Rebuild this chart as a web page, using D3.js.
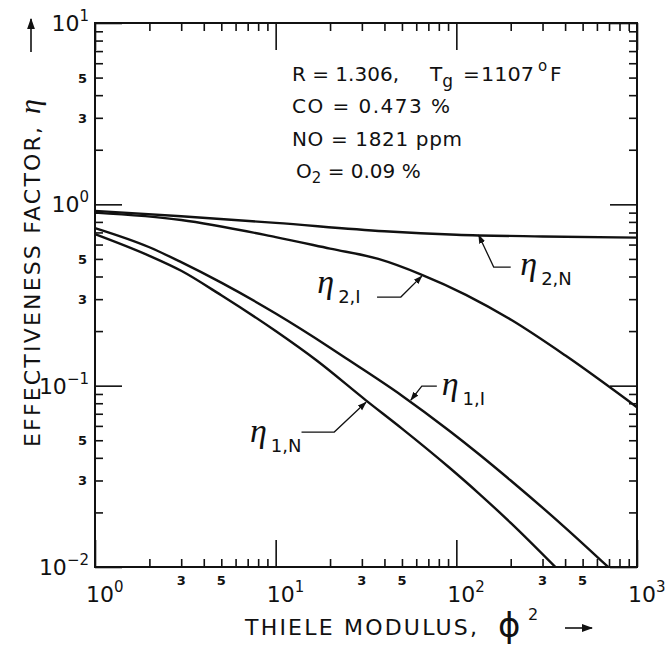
<!DOCTYPE html>
<html>
<head>
<meta charset="utf-8">
<script src="https://cdn.jsdelivr.net/npm/d3@7"></script>
<style>
  body { margin: 0; background: #fff; }
  text { font-family: "DejaVu Sans", sans-serif; fill: #111; }
</style>
</head>
<body>
<svg id="chart"></svg>
<script>
// curve data (phi^2, eta)
var phi2_2N = [1, 3, 10, 40, 100, 300, 1000];
var eta_2N  = [0.92, 0.86, 0.79, 0.71, 0.68, 0.665, 0.655];

var phi2_2I = [1, 3, 10, 20, 37, 64, 113, 202, 400, 1000];
var eta_2I  = [0.90, 0.82, 0.66, 0.57, 0.50, 0.41, 0.317, 0.23, 0.147, 0.076];

var phi2_1I = [1, 2, 3, 5, 10, 20, 25.5, 50, 91, 133, 200, 400, 692];
var eta_1I  = [0.74, 0.58, 0.48, 0.37, 0.25, 0.162, 0.138, 0.088, 0.0566, 0.042, 0.030, 0.0165, 0.01];

var phi2_1N = [1, 2, 3, 5, 10, 16.8, 31.6, 50, 91, 133, 200, 353];
var eta_1N  = [0.685, 0.52, 0.43, 0.315, 0.2, 0.138, 0.083, 0.058, 0.0355, 0.0255, 0.0175, 0.01];

var xDecades = [1, 10, 100, 1000];
var xDecadeExp = ["0", "1", "2", "3"];
var yDecades = [10, 1, 0.1, 0.01];
var yDecadeExp = ["1", "0", "\u22121", "\u22122"];
var xMinorLabels = [3, 5, 30, 50, 300, 500];
var yMinorLabels = [5, 3, 0.5, 0.3, 0.05, 0.03];

var conditions = ["CO = 0.473 %", "NO = 1821 ppm"];

var width = 669, height = 649;
var margin = {"left": 95, "right": 32, "top": 23, "bottom": 82};

var svg = d3.select("#chart").attr("width", width).attr("height", height);
svg.append("rect").attr("width", width).attr("height", height).attr("fill", "#fff");

var xScale = d3.scaleLog().domain([1, 1000]).range([margin.left, width - margin.right]);
var yScale = d3.scaleLog().domain([0.01, 10]).range([height - margin.bottom, margin.top]);

var x0 = margin.left, x1 = width - margin.right;
var y0 = margin.top, y1 = height - margin.bottom;

// arrow head marker
var defs = svg.append("defs");
defs.append("marker").attr("id", "head")
  .attr("viewBox", "0 0 10 10").attr("refX", 9).attr("refY", 5)
  .attr("markerWidth", 7).attr("markerHeight", 7).attr("orient", "auto")
  .append("path").attr("d", "M0,1.5 L10,5 L0,8.5 Z").attr("fill", "#111");

// minor and major ticks, all four sides, pointing inward
var xMinor = xScale.ticks().filter(function(d) { return xDecades.indexOf(d) < 0; });
var yMinor = yScale.ticks().filter(function(d) { return yDecades.indexOf(d) < 0; });

function tickGroup(axis, tx, ty) {
  var g = svg.append("g").attr("transform", "translate(" + tx + "," + ty + ")").call(axis);
  g.select(".domain").remove();
  g.selectAll("line").attr("stroke", "#111").attr("stroke-width", 1.6);
  return g;
}
tickGroup(d3.axisBottom(xScale).tickValues(xMinor).tickSize(-8).tickFormat(""), 0, y1);
tickGroup(d3.axisTop(xScale).tickValues(xMinor).tickSize(-8).tickFormat(""), 0, y0);
tickGroup(d3.axisLeft(yScale).tickValues(yMinor).tickSize(-8).tickFormat(""), x0, 0);
tickGroup(d3.axisRight(yScale).tickValues(yMinor).tickSize(-8).tickFormat(""), x1, 0);
tickGroup(d3.axisBottom(xScale).tickValues(xDecades).tickSize(-27).tickFormat(""), 0, y1);
tickGroup(d3.axisTop(xScale).tickValues(xDecades).tickSize(-27).tickFormat(""), 0, y0);
tickGroup(d3.axisLeft(yScale).tickValues(yDecades).tickSize(-27).tickFormat(""), x0, 0);
tickGroup(d3.axisRight(yScale).tickValues(yDecades).tickSize(-27).tickFormat(""), x1, 0);

// frame
svg.append("rect").attr("x", x0).attr("y", y0)
  .attr("width", x1 - x0).attr("height", y1 - y0)
  .attr("fill", "none").attr("stroke", "#111").attr("stroke-width", 2);

// decade labels
xDecades.forEach(function(d, i) {
  var t = svg.append("text").attr("x", xScale(d) - 9).attr("y", y1 + 35)
    .style("font-size", "22px");
  t.append("tspan").text("10");
  t.append("tspan").attr("dy", -10).style("font-size", "15px").text(xDecadeExp[i]);
});
yDecades.forEach(function(d, i) {
  var t = svg.append("text").attr("x", x0 - 6).attr("y", yScale(d) + 8)
    .attr("text-anchor", "end").style("font-size", "22px");
  t.append("tspan").text("10");
  t.append("tspan").attr("dy", -10).style("font-size", "15px").text(yDecadeExp[i]);
});

// minor labels 3, 5
svg.selectAll(".xml").data(xMinorLabels).enter().append("text")
  .attr("x", function(d) { return xScale(d); }).attr("y", y1 + 18)
  .attr("text-anchor", "middle").style("font-size", "13px").style("font-weight", "bold")
  .text(function(d) { return String(d).replace(/0/g, "").replace(".", ""); });
svg.selectAll(".yml").data(yMinorLabels).enter().append("text")
  .attr("x", x0 - 8).attr("y", function(d) { return yScale(d) + 5; })
  .attr("text-anchor", "end").style("font-size", "13px").style("font-weight", "bold")
  .text(function(d) { return String(d).replace(/0/g, "").replace(".", ""); });

// curves
var line = d3.line()
  .x(function(d) { return xScale(d[0]); })
  .y(function(d) { return yScale(d[1]); })
  .curve(d3.curveMonotoneX);

[[phi2_2N, eta_2N], [phi2_2I, eta_2I], [phi2_1I, eta_1I], [phi2_1N, eta_1N]].forEach(function(s) {
  svg.append("path").datum(d3.zip(s[0], s[1]))
    .attr("d", line).attr("fill", "none")
    .attr("stroke", "#111").attr("stroke-width", 2.4);
});

// leader lines, in data units (phi^2, eta), last point is the arrow tip
var leaders = [
  [[200, 0.451], [161, 0.451], [133, 0.676]],
  [[36.4, 0.308], [49.3, 0.308], [64.4, 0.402]],
  [[78, 0.0995], [64.4, 0.0995], [56, 0.0833]],
  [[13.9, 0.0555], [21.1, 0.0555], [31.6, 0.081]]
];
leaders.forEach(function(p) {
  svg.append("path").datum(p)
    .attr("d", d3.line().x(function(d) { return xScale(d[0]); }).y(function(d) { return yScale(d[1]); }))
    .attr("fill", "none").attr("stroke", "#111").attr("stroke-width", 1.3)
    .attr("marker-end", "url(#head)");
});

// curve labels: eta with subscript
var curveLabels = [
  {"at": [226, 0.407], "sub": "2,N"},
  {"at": [17, 0.324], "sub": "2,I"},
  {"at": [83, 0.089], "sub": "1,I"},
  {"at": [7.2, 0.049], "sub": "1,N"}
];
curveLabels.forEach(function(c) {
  var t = svg.append("text").attr("x", xScale(c.at[0])).attr("y", yScale(c.at[1]));
  t.append("tspan").style("font-family", "'Liberation Serif', serif").style("font-style", "italic")
    .style("font-size", "34px").text("\u03b7");
  t.append("tspan").attr("dx", 4).attr("dy", 10).style("font-size", "18px").text(c.sub);
});

// conditions block
var cond = svg.append("g").style("font-size", "20px");
var l1 = cond.append("text").attr("x", 292).attr("y", 81);
l1.append("tspan").text("R = 1.306,");
l1.append("tspan").attr("x", 430).text("T");
l1.append("tspan").attr("dy", 6).style("font-size", "17px").text("g");
l1.append("tspan").attr("x", 463).attr("dy", -6).text("=");
l1.append("tspan").attr("x", 481).attr("textLength", 53).attr("lengthAdjust", "spacingAndGlyphs").text("1107");
l1.append("tspan").attr("x", 538).attr("dy", -10).style("font-size", "15px").text("o");
l1.append("tspan").attr("x", 550).attr("dy", 10).text("F");
conditions.forEach(function(c, i) {
  cond.append("text").attr("x", 292).attr("y", 113 + i * 33)
    .attr("textLength", i === 0 ? 158 : 170).attr("lengthAdjust", "spacing").text(c);
});
var l4 = cond.append("text").attr("x", 296).attr("y", 178);
l4.append("tspan").text("O");
l4.append("tspan").attr("dy", 5).style("font-size", "15px").text("2");
l4.append("tspan").attr("dy", -5).text(" = 0.09 %");

// x axis title
var xt = svg.append("text").attr("x", 245).attr("y", 635).style("font-size", "22px");
xt.append("tspan").attr("textLength", 232).attr("lengthAdjust", "spacing").text("THIELE MODULUS,");
svg.append("text").attr("x", 498).attr("y", 637)
  .style("font-size", "34px").text("\u03d5");
svg.append("text").attr("x", 528).attr("y", 620).style("font-size", "16px").text("2");
svg.append("line").attr("x1", 565).attr("x2", 592).attr("y1", 628).attr("y2", 628)
  .attr("stroke", "#111").attr("stroke-width", 1.6).attr("marker-end", "url(#head)");

// y axis title
var yt = svg.append("g").attr("transform", "translate(40,447) rotate(-90)");
yt.append("text").attr("x", 0).attr("y", 0).style("font-size", "22px")
  .attr("textLength", 320).attr("lengthAdjust", "spacing").text("EFFECTIVENESS FACTOR,");
yt.append("text").attr("x", 333).attr("y", 0)
  .style("font-family", "'Liberation Serif', serif").style("font-style", "italic")
  .style("font-size", "30px").text("\u03b7");
yt.append("line").attr("x1", 395).attr("x2", 428).attr("y1", -9).attr("y2", -9)
  .attr("stroke", "#111").attr("stroke-width", 1.6).attr("marker-end", "url(#head)");
</script>
</body>
</html>
